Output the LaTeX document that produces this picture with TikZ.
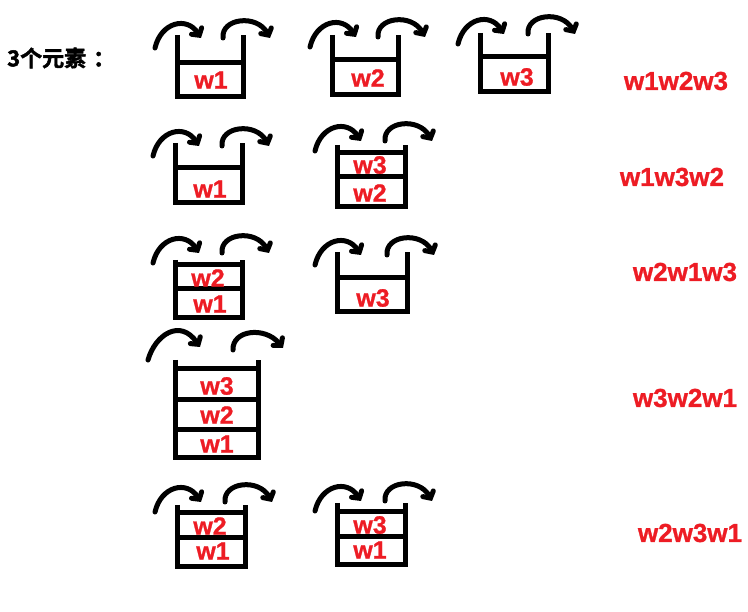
\documentclass[tikz,border=0pt]{standalone}
\usepackage{fontspec}
\setmainfont{Liberation Sans}
\newfontfamily\cjk[FakeBold=2]{Noto Sans CJK SC Bold}
\newfontfamily\labfont[FakeBold=1]{Liberation Sans Bold}
\usetikzlibrary{arrows.meta}
\definecolor{pred}{RGB}{237,28,36}
\tikzset{
  wall/.style={line width=5pt, line join=miter},
  curv/.style={line width=5pt, line cap=round, -{Straight Barb[length=5pt,width=12pt,line cap=round]}},
  lab/.style={text=pred, font=\labfont\fontsize{25}{25}\selectfont, inner sep=0pt},
  res/.style={text=pred, font=\labfont\fontsize{26}{26}\selectfont, inner sep=0pt},
}
\newcommand\stackbox[4]{\draw[wall] (#1,#3) -- (#1,#4) -- (#2,#4) -- (#2,#3);}
\newcommand\shelf[3]{\draw[wall] (#1,#3) -- (#2,#3);}
\newcommand\twoarrows[3]{%
  \draw[curv] ({#1-22},{#3+12}) .. controls ({#1-16},{#3-14}) and ({#1+10},{#3-20}) .. ({#1+24},{#3+2});
  \draw[curv] ({#2-20},{#3+2}) .. controls ({#2-22},{#3-18}) and ({#2+14},{#3-22}) .. ({#2+27},{#3+2});}
\begin{document}
\begin{tikzpicture}[x=1pt,y=-1pt]
\useasboundingbox (0,0) rectangle (748,612);
\node[anchor=west, inner sep=0pt, font=\cjk\fontsize{22}{22}\selectfont] (title) at (7,58) {3个元素\hspace{7pt}：};
% row 1
\stackbox{177}{243}{35}{97}\shelf{177}{243}{63}\twoarrows{177}{243}{36}
\node[lab] (r1a) at (211,80) {w1};
\stackbox{332}{398}{35}{95}\shelf{332}{398}{60}\twoarrows{332}{398}{35}
\node[lab] (r1b) at (368,78) {w2};
\stackbox{480}{548}{33}{92}\shelf{480}{548}{57}\twoarrows{480}{548}{32}
\node[lab] (r1c) at (517,77) {w3};
\node[res] (o1) at (676,81) {w1w2w3};
% row 2
\stackbox{175}{242}{143}{203}\shelf{175}{242}{168}\twoarrows{175}{242}{144}
\node[lab] (r2a) at (210,189) {w1};
\stackbox{337}{405}{145}{207}\shelf{337}{405}{153}\shelf{337}{405}{177}\twoarrows{337}{405}{139}
\node[lab] (r2b) at (370,165) {w3};
\node[lab] (r2c) at (370,193) {w2};
\node[res] (o2) at (672,177) {w1w3w2};
% row 3
\stackbox{175}{242}{260}{318}\shelf{175}{242}{265}\shelf{175}{242}{289}\twoarrows{175}{242}{251}
\node[lab] (r3a) at (208,278) {w2};
\node[lab] (r3b) at (210,304) {w1};
\stackbox{337}{407}{252}{312}\shelf{337}{407}{278}\twoarrows{337}{407}{253}
\node[lab] (r3c) at (373,298) {w3};
\node[res] (o3) at (685,272) {w2w1w3};
% row 4
\stackbox{175}{258}{360}{458}\shelf{175}{258}{369}\shelf{175}{258}{400}\shelf{175}{258}{430}
\draw[curv] (148,360) .. controls (155,335) and (180,318) .. (200,347);
\draw[curv] (233,350) .. controls (232,330) and (265,326) .. (283,348);
\node[lab] (r4a) at (217,386) {w3};
\node[lab] (r4b) at (217,415) {w2};
\node[lab] (r4c) at (217,444) {w1};
\node[res] (o4) at (685,398) {w3w2w1};
% row 5
\stackbox{177}{245}{505}{567}\shelf{177}{245}{513}\shelf{177}{245}{538}\twoarrows{177}{245}{500}
\node[lab] (r5a) at (210,526) {w2};
\node[lab] (r5b) at (213,551) {w1};
\stackbox{337}{405}{503}{565}\shelf{337}{405}{512}\shelf{337}{405}{537}\twoarrows{337}{405}{499}
\node[lab] (r5c) at (370,525) {w3};
\node[lab] (r5d) at (370,550) {w1};
\node[res] (o5) at (690,533) {w2w3w1};
\end{tikzpicture}
\end{document}
